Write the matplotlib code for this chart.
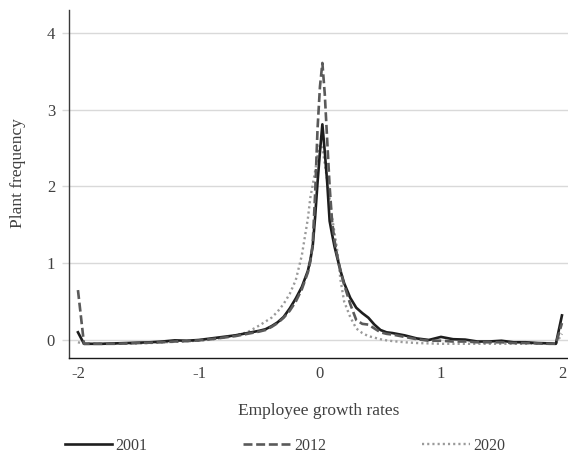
import matplotlib
matplotlib.use("Agg")
import matplotlib.pyplot as plt

# ---- data ----
growth = [-2.0, -1.95, -1.9, -1.8, -1.7, -1.6, -1.5, -1.4, -1.3, -1.2,
          -1.1, -1.0, -0.9, -0.8, -0.7, -0.6, -0.5, -0.45, -0.4, -0.35,
          -0.3, -0.25, -0.2, -0.15, -0.1, -0.08, -0.06, -0.04, -0.02, 0.0,
          0.02, 0.04, 0.06, 0.08, 0.1, 0.12, 0.14, 0.17, 0.2, 0.25,
          0.3, 0.35, 0.4, 0.45, 0.5, 0.55, 0.6, 0.7, 0.8, 0.9,
          1.0, 1.1, 1.2, 1.3, 1.4, 1.5, 1.6, 1.7, 1.8, 1.9,
          1.95, 2.0]

freq_2001 = [0.10, -0.05, -0.05, -0.05, -0.045, -0.04, -0.035, -0.03, -0.02, -0.005,
             -0.01, 0.0, 0.02, 0.04, 0.06, 0.09, 0.12, 0.14, 0.18, 0.23,
             0.30, 0.41, 0.54, 0.69, 0.90, 1.04, 1.22, 1.60, 2.05, 2.45,
             2.81, 2.45, 2.05, 1.55, 1.38, 1.22, 1.09, 0.90, 0.74, 0.55,
             0.42, 0.35, 0.29, 0.20, 0.13, 0.10, 0.09, 0.06, 0.02, 0.00,
             0.04, 0.01, 0.005, -0.02, -0.02, -0.01, -0.03, -0.03, -0.04, -0.045,
             -0.05, 0.32]

freq_2012 = [0.65, -0.05, -0.05, -0.05, -0.05, -0.045, -0.04, -0.035, -0.03, -0.02,
             -0.015, -0.005, 0.01, 0.03, 0.05, 0.08, 0.11, 0.13, 0.17, 0.22,
             0.29, 0.38, 0.50, 0.66, 0.88, 1.02, 1.25, 1.90, 2.75, 3.30,
             3.61, 3.20, 2.60, 2.00, 1.55, 1.30, 1.12, 0.90, 0.72, 0.47,
             0.26, 0.21, 0.20, 0.15, 0.10, 0.08, 0.07, 0.04, 0.01, -0.01,
             -0.01, -0.02, -0.02, -0.03, -0.03, -0.03, -0.04, -0.04, -0.045, -0.05,
             -0.05, 0.22]

freq_2020 = [-0.03, -0.05, -0.05, -0.05, -0.05, -0.05, -0.045, -0.04, -0.03, -0.025,
             -0.015, -0.01, 0.005, 0.03, 0.06, 0.10, 0.19, 0.24, 0.29, 0.37,
             0.47, 0.60, 0.78, 1.10, 1.58, 1.85, 2.02, 2.20, 2.40, 2.55,
             2.50, 2.30, 2.08, 1.85, 1.60, 1.40, 1.20, 0.78, 0.50, 0.30,
             0.15, 0.09, 0.05, 0.03, 0.01, -0.005, -0.015, -0.03, -0.04, -0.045,
             -0.05, -0.05, -0.05, -0.05, -0.05, -0.05, -0.05, -0.05, -0.05, -0.05,
             -0.05, 0.08]

series_names = ["2001", "2012", "2020"]
x_ticks = [-2, -1, 0, 1, 2]
y_ticks = [0, 1, 2, 3, 4]

# ---- style ----
plt.rcParams["font.family"] = ["Liberation Serif", "DejaVu Serif"]
TEXT = "#404040"

fig = plt.figure(figsize=(5.68, 4.55), dpi=100)
ax = fig.add_axes([69 / 568, 97 / 455, 499 / 568, 348 / 455])

l20, = ax.plot(growth, freq_2020, color="#9a9a9a", lw=1.7,
               linestyle=(0, (0.9, 1.3)), zorder=2, label=series_names[2])
l01, = ax.plot(growth, freq_2001, color="#1e1e1e", lw=1.9,
               linestyle="-", zorder=3, label=series_names[0])
l12, = ax.plot(growth, freq_2012, color="#5a5a5a", lw=1.9,
               linestyle=(0, (3.4, 1.4)), zorder=4, label=series_names[1])

ax.set_xlim(-2.074, 2.05)
ax.set_ylim(-0.235, 4.30)
ax.set_xticks(x_ticks)
ax.set_xticklabels([str(v) for v in x_ticks])
ax.set_yticks(y_ticks)
ax.set_yticklabels([str(v) for v in y_ticks])

ax.grid(axis="y", color="#d9d9d9", lw=1.0, zorder=0)
ax.set_axisbelow(True)
for s in ("top", "right"):
    ax.spines[s].set_visible(False)
ax.spines["left"].set_color("#3a3a3a")
ax.spines["bottom"].set_color("#1a1a1a")
ax.spines["left"].set_linewidth(1.0)
ax.spines["bottom"].set_linewidth(1.0)

ax.tick_params(axis="y", length=5, width=1.0, color="#d9d9d9", pad=5,
               labelsize=12, labelcolor=TEXT)
ax.tick_params(axis="x", length=0, pad=6, labelsize=12, labelcolor=TEXT)

ax.set_xlabel("Employee growth rates", fontsize=12.5, color=TEXT)
ax.xaxis.set_label_coords(0.501, -0.13)
ax.set_ylabel("Plant frequency", fontsize=12.5, color=TEXT)
ax.yaxis.set_label_coords(-0.086, 0.53)

fig.legend(handles=[l01, l12, l20], labels=series_names, loc="center",
           bbox_to_anchor=(285 / 568, 9 / 455), ncol=3, frameon=False,
           fontsize=11.5, handlelength=2.95, handletextpad=0.25,
           columnspacing=6.0, labelcolor=TEXT, borderpad=0)

fig.savefig("out.png", dpi=100)
